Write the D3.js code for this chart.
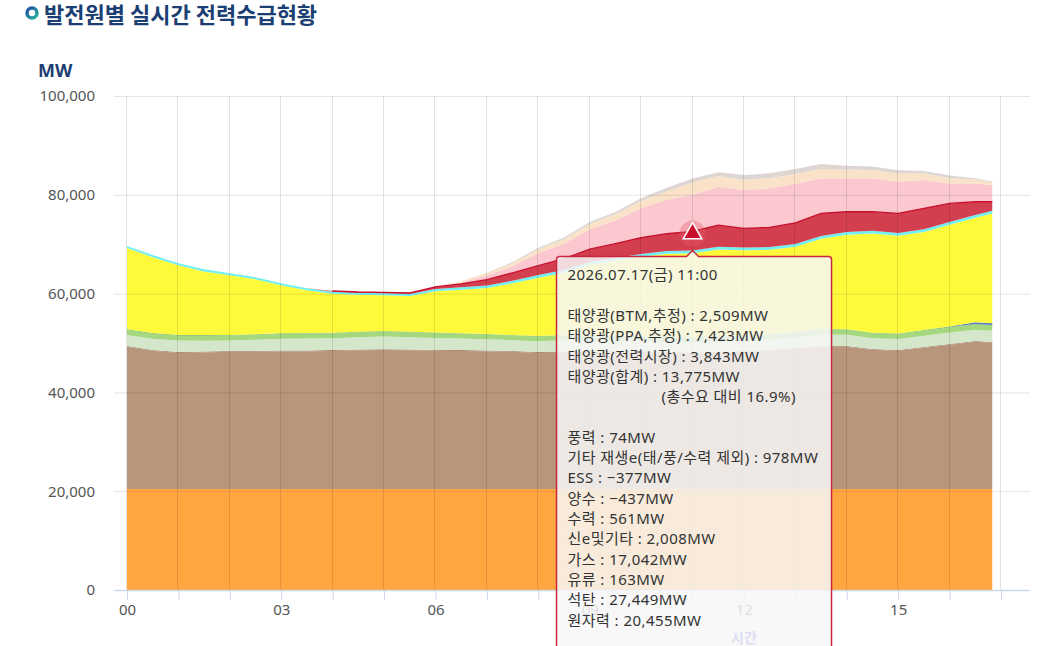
<!DOCTYPE html>
<html>
<head>
<meta charset="utf-8">
<title>발전원별 실시간 전력수급현황</title>
<script src="https://cdn.jsdelivr.net/npm/d3@7"></script>
<style>
  body { margin: 0; background: #fff; }
  text { font-family: 'Noto Sans', 'Noto Sans CJK KR', sans-serif; }
</style>
</head>
<body>
<script>

  // half-hour readings, 00:00 .. 16:50
  var hours = [0, 0.5, 1, 1.5, 2, 2.5, 3, 3.5, 4, 4.5, 5, 5.5, 6, 6.5, 7, 7.5, 8, 8.5,
    9, 9.5, 10, 10.5, 11, 11.5, 12, 12.5, 13, 13.5, 14, 14.5, 15, 15.5, 16, 16.5, 16.83];

  var nuclear = [20460,20450,20450,20440,20450,20460,20450,20450,20440,20450,20460,20450,20450,20440,20450,20460,20450,20450,
    20460,20450,20450,20460,20455,20450,20450,20440,20450,20460,20450,20450,20440,20450,20460,20450,20450];
  var coal = [28770,27960,27550,27650,27760,27760,27860,27860,27960,28060,28100,28060,27960,27960,27860,27760,27550,27650,
    27760,27760,27760,27550,27449,27550,27760,27960,28360,28770,28770,28160,27960,28570,29170,29780,29580];
  var oil = [170,170,165,165,165,160,160,160,160,160,160,160,160,160,165,165,165,165,
    165,165,165,165,163,163,163,163,163,165,165,165,165,165,170,170,170];
  var newEtc = [2220,2300,2320,2220,2140,2300,2370,2430,2390,2510,2590,2500,2460,2350,2270,2190,2190,2300,
    2100,2080,2060,2030,2008,2020,2050,2100,2150,2330,2300,2200,2250,2300,2330,2300,2280];
  var otherRen = [1010,1000,990,990,980,990,1000,1000,1010,1010,1020,1010,1000,990,990,980,980,980,
    980,980,980,980,978,980,990,1000,1000,1010,1010,1000,990,1000,1010,1020,1020];
  var wind = [150,140,130,130,120,120,110,110,100,100,90,90,80,80,80,70,70,70,
    70,70,70,74,74,80,80,90,90,100,100,110,120,130,140,150,150];
  var pumpGen = [0,0,0,0,0,0,0,0,0,0,0,0,0,0,0,0,0,0,
    0,0,0,0,0,0,0,0,0,0,0,0,0,0,60,350,330];
  var gas = [16430,15360,14110,12900,12090,11100,9730,8650,7920,7480,7230,7220,8360,8810,9320,10460,11810,12600,
    14290,15130,15960,16800,17042,17680,17270,17110,17260,18260,19100,20080,19770,19830,20580,21120,22230];
  var hydro = [420,420,410,410,400,400,400,400,400,400,400,420,450,480,500,520,540,550,
    560,560,560,560,561,560,560,560,560,560,560,560,560,560,560,560,560];
  var solarMkt = [null,null,null,null,null,null,null,null,150,150,200,250,460,700,1200,1600,1900,2300,
    2600,2900,3300,3500,3843,4390,3890,3990,4300,4590,4110,3850,3990,4250,3780,2690,1820];
  var solarPPA = [0,0,0,0,0,0,0,0,0,0,0,0,60,300,810,1350,2570,3040,
    4050,4720,6000,6900,7423,7750,7750,7890,7890,7080,6760,6760,6400,5730,4050,3720,3380];
  var solarBTM = [0,0,0,0,0,0,0,0,0,0,0,0,40,250,500,650,750,900,
    1050,1250,1450,1700,2509,2200,2100,2050,2000,1900,1800,1700,1650,1400,1050,800,500];
  var charging = [0,0,0,0,0,0,0,0,0,0,0,0,0,0,100,200,300,350,
    400,450,550,700,814,750,950,1000,1000,1000,750,700,650,450,550,250,200];

  var seriesNames = ["원자력", "석탄", "유류", "신e및기타", "기타 재생e", "풍력", "양수", "가스", "수력",
    "태양광(전력시장)", "태양광(PPA,추정)", "태양광(BTM,추정)", "양수·ESS 충전"];
  var seriesValues = [nuclear, coal, oil, newEtc, otherRen, wind, pumpGen, gas, hydro,
    solarMkt, solarPPA, solarBTM, charging];
  var seriesColors = ["#FFA641", "#B8967B", "#A88670", "#D4E7CB", "#A4D77E", "#72BF5E", "#5B7EC4", "#FFF93C",
    "#70F0F3", "#D43F50", "#FBC8CF", "#F9E2C7", "#DDD6D2"];

  var yTicks = [0, 20000, 40000, 60000, 80000, 100000];
  var xLabelHours = [0, 3, 6, 9, 12, 15];

  var tipHour = 11;
  var tipLines = [
    "2026.07.17(금) 11:00",
    "",
    "태양광(BTM,추정) : 2,509MW",
    "태양광(PPA,추정) : 7,423MW",
    "태양광(전력시장) : 3,843MW",
    "태양광(합계) : 13,775MW",
    "(총수요 대비 16.9%)",
    "",
    "풍력 : 74MW",
    "기타 재생e(태/풍/수력 제외) : 978MW",
    "ESS : −377MW",
    "양수 : −437MW",
    "수력 : 561MW",
    "신e및기타 : 2,008MW",
    "가스 : 17,042MW",
    "유류 : 163MW",
    "석탄 : 27,449MW",
    "원자력 : 20,455MW"
  ];

  var w = 1045;
  var h = 646;
  var navy = "#1c3f73";

  var svg = d3.select("body").append("svg")
    .attr("width", w)
    .attr("height", h);

  var x = d3.scaleLinear().domain([0, 17]).range([127, 1001]);
  var y = d3.scaleLinear().domain([0, 100000]).range([590, 96]);
  var gridLeft = 114, gridRight = 1030;

  // rows for the stack
  var rows = hours.map(function(hr, i) {
    var r = { h: hr };
    seriesNames.forEach(function(name, k) { r[name] = seriesValues[k][i]; });
    return r;
  });

  var stack = d3.stack()
    .keys(seriesNames)
    .value(function(d, key) { return d[key] == null ? 0 : d[key]; });
  var layers = stack(rows);

  var area = d3.area()
    .x(function(d) { return x(d.data.h); })
    .y0(function(d) { return y(d[0]); })
    .y1(function(d) { return y(d[1]); });

  svg.append("g").selectAll("path")
    .data(layers)
    .enter()
    .append("path")
    .attr("d", area)
    .attr("fill", function(d, i) { return seriesColors[i]; });

  // top edge of the market solar band
  var mktIndex = seriesNames.indexOf("태양광(전력시장)");
  var mktLine = d3.line()
    .defined(function(d) { return d.data["태양광(전력시장)"] != null; })
    .x(function(d) { return x(d.data.h); })
    .y(function(d) { return y(d[1]); });

  svg.append("path")
    .attr("d", mktLine(layers[mktIndex]))
    .attr("fill", "none")
    .attr("stroke", "#C8102E")
    .attr("stroke-width", 1.3);

  // grid (over the areas, translucent)
  svg.append("g").selectAll("line")
    .data(yTicks.filter(function(v) { return v > 0; }))
    .enter()
    .append("line")
    .attr("x1", gridLeft)
    .attr("x2", gridRight)
    .attr("y1", function(d) { return y(d) + 0.5; })
    .attr("y2", function(d) { return y(d) + 0.5; })
    .attr("stroke", "rgba(0,0,0,0.1)");

  svg.append("g").selectAll("line")
    .data(d3.range(0, 18))
    .enter()
    .append("line")
    .attr("x1", function(d) { return Math.round(x(d)) - 0.5; })
    .attr("x2", function(d) { return Math.round(x(d)) - 0.5; })
    .attr("y1", y(100000))
    .attr("y2", y(0))
    .attr("stroke", "rgba(0,0,0,0.11)");

  // x axis
  var xAxis = d3.axisBottom(x)
    .tickValues(d3.range(0, 18))
    .tickSize(10)
    .tickPadding(4)
    .tickFormat(function(d) { return xLabelHours.indexOf(d) >= 0 ? d3.format("02d")(d) : ""; });

  var gx = svg.append("g")
    .attr("transform", "translate(0," + y(0) + ")")
    .call(xAxis);
  gx.select(".domain").remove();
  gx.selectAll(".tick line").attr("stroke", "#ccd6eb");
  gx.selectAll(".tick text")
    .attr("fill", "#555")
    .attr("font-size", 15)
    .style("font-family", "'Noto Sans', 'Noto Sans CJK KR', sans-serif");

  svg.append("line")
    .attr("x1", gridLeft)
    .attr("x2", gridRight)
    .attr("y1", y(0) + 0.5)
    .attr("y2", y(0) + 0.5)
    .attr("stroke", "#ccd6eb")
    .attr("stroke-width", 1.5);

  svg.append("text")
    .text("시간")
    .attr("x", x(12))
    .attr("y", 643)
    .attr("text-anchor", "middle")
    .attr("font-size", 14)
    .attr("font-weight", "bold")
    .attr("fill", "#4444d8");

  // y axis labels
  var yAxis = d3.axisLeft(y)
    .tickValues(yTicks)
    .tickSize(0)
    .tickPadding(0)
    .tickFormat(d3.format(","));

  var gy = svg.append("g")
    .attr("transform", "translate(95,0)")
    .call(yAxis);
  gy.select(".domain").remove();
  gy.selectAll(".tick text")
    .attr("fill", "#555")
    .attr("font-size", 15)
    .style("font-family", "'Noto Sans', 'Noto Sans CJK KR', sans-serif");

  // titles
  var grad = svg.append("defs").append("linearGradient")
    .attr("id", "ring")
    .attr("x1", 0).attr("y1", 0).attr("x2", 1).attr("y2", 1);
  grad.append("stop").attr("offset", "0%").attr("stop-color", "#1f4fa0");
  grad.append("stop").attr("offset", "100%").attr("stop-color", "#27b3a3");

  svg.append("circle")
    .attr("cx", 32)
    .attr("cy", 13)
    .attr("r", 5)
    .attr("fill", "#fff")
    .attr("stroke", "url(#ring)")
    .attr("stroke-width", 3.5);

  svg.append("text")
    .text("발전원별 실시간 전력수급현황")
    .attr("x", 44)
    .attr("y", 23)
    .attr("font-size", 22)
    .attr("font-weight", "bold")
    .attr("fill", navy)
    .style("font-family", "'Noto Sans CJK KR', sans-serif");

  svg.append("text")
    .text("MW")
    .attr("x", 38)
    .attr("y", 77)
    .attr("font-size", 18)
    .attr("font-weight", "bold")
    .attr("fill", navy);

  // hover marker at 11:00
  var tipIdx = hours.indexOf(tipHour);
  var mx = x(tipHour);
  var my = y(layers[mktIndex][tipIdx][1]) + 2;

  svg.append("circle")
    .attr("cx", mx)
    .attr("cy", my)
    .attr("r", 13)
    .attr("fill", "rgba(230,90,110,0.35)");

  svg.append("path")
    .attr("d", d3.symbol().type(d3.symbolTriangle).size(150))
    .attr("transform", "translate(" + mx + "," + my + ")")
    .attr("fill", "#C8102E")
    .attr("stroke", "#fff")
    .attr("stroke-width", 1.5);

  // tooltip
  var tipLeft = mx - 136, tipTop = my + 23, tipW = 275, tipH = 420;
  var tipPath = d3.path();
  tipPath.moveTo(tipLeft + 3, tipTop);
  tipPath.lineTo(mx - 6, tipTop);
  tipPath.lineTo(mx, tipTop - 6);
  tipPath.lineTo(mx + 6, tipTop);
  tipPath.lineTo(tipLeft + tipW - 3, tipTop);
  tipPath.quadraticCurveTo(tipLeft + tipW, tipTop, tipLeft + tipW, tipTop + 3);
  tipPath.lineTo(tipLeft + tipW, tipTop + tipH);
  tipPath.lineTo(tipLeft, tipTop + tipH);
  tipPath.lineTo(tipLeft, tipTop + 3);
  tipPath.quadraticCurveTo(tipLeft, tipTop, tipLeft + 3, tipTop);
  tipPath.closePath();

  svg.append("path")
    .attr("d", tipPath.toString())
    .attr("fill", "rgba(247,247,247,0.85)")
    .attr("stroke", "#C8283C")
    .attr("stroke-width", 1.5);

  svg.append("g").selectAll("text")
    .data(tipLines)
    .enter()
    .append("text")
    .text(function(d) { return d; })
    .attr("x", function(d) { return d.charAt(0) === "(" ? tipLeft + 105 : tipLeft + 11; })
    .attr("y", function(d, i) { return tipTop + 24 + i * 20.3; })
    .attr("font-size", 15)
    .attr("letter-spacing", 0.45)
    .attr("fill", "#333");

</script>
</body>
</html>
